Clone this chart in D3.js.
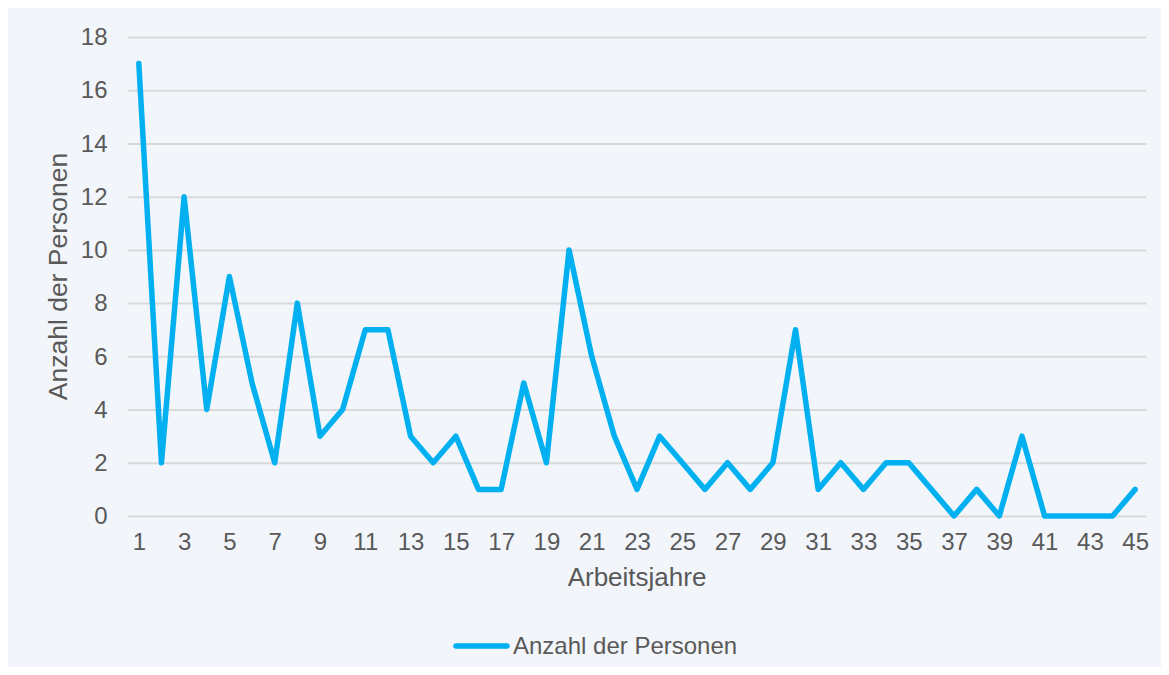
<!DOCTYPE html>
<html>
<head>
<meta charset="utf-8">
<script src="https://cdn.jsdelivr.net/npm/d3@7"></script>
<style>
  body { margin: 0; background: #fff; }
  text { font-family: 'Liberation Sans', Arial, sans-serif; fill: #595959; }
</style>
</head>
<body>
<svg id="chart" width="1169" height="675"></svg>
<script>
// years of work 1..45
const years = d3.range(1, 46)
const persons = [17, 2, 12, 4, 9, 5, 2, 8, 3, 4, 7, 7, 3, 2, 3, 1, 1, 5, 2, 10,
  6, 3, 1, 3, 2, 1, 2, 1, 2, 7, 1, 2, 1, 2, 2, 1, 0, 1, 0, 3,
  0, 0, 0, 0, 1]
const yTicks = [0, 2, 4, 6, 8, 10, 12, 14, 16, 18]
const xTicks = years.filter(d => d % 2 === 1)
const seriesName = 'Anzahl der Personen'

let field = d3.select('#chart')
let plotLeft = 127.5
let plotRight = 1146.5
let plotTop = 37
let plotBottom = 516

field.append('rect')
  .attr('x', 8).attr('y', 8)
  .attr('width', 1153).attr('height', 659)
  .attr('fill', '#f2f6fb')

let xScale = d3.scalePoint()
  .domain(years)
  .range([plotLeft, plotRight])
  .padding(0.5)

let yScale = d3.scaleLinear()
  .domain([0, 18])
  .range([plotBottom, plotTop])

let yAxis = d3.axisLeft(yScale).tickValues(yTicks).tickSize(-(plotRight - plotLeft)).tickPadding(20)
let xAxis = d3.axisBottom(xScale).tickValues(xTicks).tickSize(0).tickPadding(17)

let gy = field.append('g')
  .attr('transform', `translate(${plotLeft}, 0)`)
  .call(yAxis)
gy.select('.domain').remove()
gy.selectAll('line').attr('stroke', '#d9d9d9').attr('stroke-width', 2)
gy.selectAll('text').style('font-size', '24px').attr('fill', '#595959')

let gx = field.append('g')
  .attr('transform', `translate(0, ${plotBottom})`)
  .call(xAxis)
gx.select('.domain').remove()
gx.selectAll('text').style('font-size', '24px').attr('fill', '#595959')

let line = d3.line()
  .x((d, i) => xScale(years[i]))
  .y(d => yScale(d))

field.append('path')
  .datum(persons)
  .attr('d', line)
  .attr('fill', 'none')
  .attr('stroke', '#00b0f0')
  .attr('stroke-width', 5.5)
  .attr('stroke-linejoin', 'round')
  .attr('stroke-linecap', 'round')

field.append('text')
  .text('Anzahl der Personen')
  .attr('transform', `translate(67, ${(plotTop + plotBottom) / 2}) rotate(-90)`)
  .attr('text-anchor', 'middle')
  .style('font-size', '26.5px')

field.append('text')
  .text('Arbeitsjahre')
  .attr('x', (plotLeft + plotRight) / 2)
  .attr('y', 586)
  .attr('text-anchor', 'middle')
  .style('font-size', '26px')

// legend
field.append('line')
  .attr('x1', 456).attr('x2', 507)
  .attr('y1', 646).attr('y2', 646)
  .attr('stroke', '#00b0f0')
  .attr('stroke-width', 5.5)
  .attr('stroke-linecap', 'round')

field.append('text')
  .text(seriesName)
  .attr('x', 513)
  .attr('y', 654)
  .style('font-size', '24px')
</script>
</body>
</html>
